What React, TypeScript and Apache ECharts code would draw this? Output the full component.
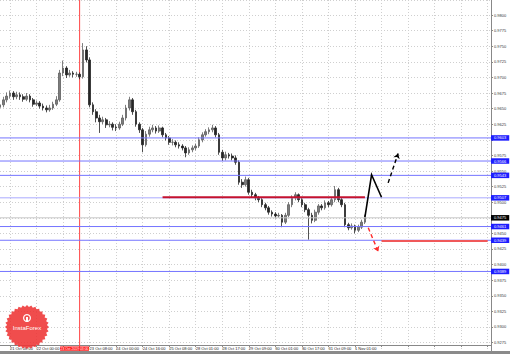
import React, { useEffect, useRef } from "react";
import * as echarts from "echarts";

// ---- data (H2 bars) ----
const tickLabels = [
  "21 Oct 08:00", "22 Oct 00:00", "22 Oct 16:00", "23 Oct 08:00", "24 Oct 00:00",
  "24 Oct 16:00", "25 Oct 08:00", "28 Oct 01:00", "28 Oct 17:00", "29 Oct 09:00",
  "30 Oct 01:00", "30 Oct 17:00", "31 Oct 09:00", "1 Nov 01:00",
];
const categoryCount = 149;
const firstTickIndex = 3;
const tickStep = 8;
const priceMin = 0.925673;
const priceMax = 0.982404;
const priceStep = 0.0025;

const opens = [
  0.9652, 0.9656, 0.9664, 0.9670, 0.9675, 0.9669, 0.9672, 0.9669, 0.9665, 0.9670,
  0.9664, 0.9657, 0.9659, 0.9654, 0.9651, 0.9648, 0.9651, 0.9657, 0.9664, 0.9707,
  0.9715, 0.9704, 0.9707, 0.9705, 0.9705, 0.9701, 0.9744, 0.9728, 0.9656, 0.9645,
  0.9635, 0.9629, 0.9632, 0.9624, 0.9625, 0.9620, 0.9619, 0.9625, 0.9635, 0.9651,
  0.9664, 0.9645, 0.9625, 0.9616, 0.9592, 0.9609, 0.9616, 0.9619, 0.9614, 0.9619,
  0.9608, 0.9603, 0.9596, 0.9596, 0.9592, 0.9590, 0.9587, 0.9579, 0.9584, 0.9587,
  0.9590, 0.9600, 0.9608, 0.9613, 0.9616, 0.9619, 0.9608, 0.9580, 0.9571, 0.9576,
  0.9574, 0.9571, 0.9564, 0.9532, 0.9528, 0.9536, 0.9516, 0.9512, 0.9507, 0.9504,
  0.9496, 0.9491, 0.9484, 0.9481, 0.9478, 0.9479, 0.9468, 0.9479, 0.9496, 0.9507,
  0.9512, 0.9504, 0.9496, 0.9488, 0.9479, 0.9471, 0.9484, 0.9494, 0.9491, 0.9499,
  0.9496, 0.9504, 0.9520, 0.9504, 0.9496, 0.9464, 0.9459, 0.9462, 0.9455, 0.9460,
  0.9468,
];
const closes = [
  0.9656, 0.9664, 0.9670, 0.9675, 0.9669, 0.9672, 0.9669, 0.9665, 0.9670, 0.9664,
  0.9657, 0.9659, 0.9654, 0.9651, 0.9648, 0.9651, 0.9657, 0.9664, 0.9707, 0.9715,
  0.9704, 0.9707, 0.9705, 0.9705, 0.9701, 0.9744, 0.9728, 0.9656, 0.9645, 0.9635,
  0.9629, 0.9632, 0.9624, 0.9625, 0.9620, 0.9619, 0.9625, 0.9635, 0.9651, 0.9664,
  0.9645, 0.9625, 0.9616, 0.9592, 0.9609, 0.9616, 0.9619, 0.9614, 0.9619, 0.9608,
  0.9603, 0.9596, 0.9596, 0.9592, 0.9590, 0.9587, 0.9579, 0.9584, 0.9587, 0.9590,
  0.9600, 0.9608, 0.9613, 0.9616, 0.9619, 0.9608, 0.9580, 0.9571, 0.9576, 0.9574,
  0.9571, 0.9564, 0.9532, 0.9528, 0.9536, 0.9516, 0.9512, 0.9507, 0.9504, 0.9496,
  0.9491, 0.9484, 0.9481, 0.9478, 0.9479, 0.9468, 0.9479, 0.9496, 0.9507, 0.9512,
  0.9504, 0.9496, 0.9488, 0.9479, 0.9471, 0.9484, 0.9494, 0.9491, 0.9499, 0.9496,
  0.9504, 0.9520, 0.9504, 0.9496, 0.9464, 0.9459, 0.9462, 0.9455, 0.9460, 0.9468,
  0.9476,
];
const highs = [
  0.9662, 0.9669, 0.9676, 0.9679, 0.9678, 0.9677, 0.9676, 0.9673, 0.9675, 0.9673,
  0.9667, 0.9663, 0.9662, 0.9658, 0.9655, 0.9656, 0.9661, 0.9670, 0.9712, 0.9727,
  0.9718, 0.9712, 0.9710, 0.9709, 0.9708, 0.9755, 0.9750, 0.9732, 0.9660, 0.9649,
  0.9640, 0.9637, 0.9635, 0.9630, 0.9628, 0.9625, 0.9629, 0.9640, 0.9656, 0.9669,
  0.9667, 0.9648, 0.9628, 0.9619, 0.9614, 0.9621, 0.9624, 0.9622, 0.9623, 0.9621,
  0.9611, 0.9606, 0.9601, 0.9599, 0.9596, 0.9593, 0.9590, 0.9588, 0.9591, 0.9594,
  0.9604, 0.9612, 0.9617, 0.9620, 0.9624, 0.9622, 0.9611, 0.9584, 0.9581, 0.9579,
  0.9578, 0.9575, 0.9567, 0.9537, 0.9541, 0.9539, 0.9520, 0.9515, 0.9510, 0.9507,
  0.9499, 0.9494, 0.9487, 0.9484, 0.9483, 0.9481, 0.9483, 0.9500, 0.9511, 0.9516,
  0.9514, 0.9507, 0.9499, 0.9491, 0.9483, 0.9488, 0.9497, 0.9497, 0.9503, 0.9502,
  0.9508, 0.9526, 0.9523, 0.9507, 0.9499, 0.9467, 0.9466, 0.9464, 0.9464, 0.9472,
  0.9480,
];
const lows = [
  0.9647, 0.9652, 0.9660, 0.9666, 0.9664, 0.9665, 0.9664, 0.9661, 0.9662, 0.9660,
  0.9653, 0.9654, 0.9650, 0.9647, 0.9644, 0.9645, 0.9648, 0.9654, 0.9661, 0.9702,
  0.9699, 0.9701, 0.9700, 0.9701, 0.9697, 0.9698, 0.9724, 0.9652, 0.9640, 0.9628,
  0.9611, 0.9625, 0.9619, 0.9620, 0.9615, 0.9614, 0.9616, 0.9622, 0.9631, 0.9647,
  0.9640, 0.9621, 0.9611, 0.9580, 0.9589, 0.9605, 0.9612, 0.9610, 0.9611, 0.9604,
  0.9599, 0.9592, 0.9591, 0.9588, 0.9586, 0.9583, 0.9572, 0.9576, 0.9580, 0.9583,
  0.9587, 0.9596, 0.9605, 0.9609, 0.9612, 0.9604, 0.9576, 0.9566, 0.9567, 0.9570,
  0.9567, 0.9560, 0.9528, 0.9523, 0.9525, 0.9512, 0.9508, 0.9503, 0.9500, 0.9492,
  0.9487, 0.9480, 0.9477, 0.9474, 0.9475, 0.9460, 0.9465, 0.9476, 0.9492, 0.9503,
  0.9500, 0.9492, 0.9484, 0.9440, 0.9466, 0.9468, 0.9480, 0.9487, 0.9488, 0.9492,
  0.9493, 0.9500, 0.9500, 0.9492, 0.9460, 0.9455, 0.9456, 0.9450, 0.9452, 0.9457,
  0.9465,
];

const blueLevels = [0.9603, 0.9566, 0.9543, 0.9507, 0.9461, 0.9439, 0.9389];
const currentPrice = 0.9475;
const separatorIndex = 24;
const separatorLabel = "23 Oct 2019 03:00";
const upperRed = [[49, 0.9508], [110, 0.9508]];
const lowerRed = [[115, 0.9438], [147, 0.9438]];
const bullPath = [[110, 0.9476], [112, 0.9544], [115, 0.9508]];
const bullTarget = [[117, 0.9531], [120, 0.9578]];
const bearPath = [[111, 0.9459], [114, 0.9421]];

const FONT = "'Liberation Sans', Arial, sans-serif";

export default function App() {
  const ref = useRef<HTMLDivElement>(null);

  useEffect(() => {
    if (!ref.current) return;
    const chart = echarts.init(ref.current, undefined, { renderer: "svg" });
    const categories = Array.from({ length: categoryCount }, (_, i) => String(i));
    const isTick = (i: number) => i >= firstTickIndex && (i - firstTickIndex) % tickStep === 0;
    // the label under the separator's date box is hidden, as in the terminal
    const isLabel = (i: number) =>
      isTick(i) &&
      (i - firstTickIndex) / tickStep < tickLabels.length &&
      !(i <= separatorIndex && i > separatorIndex - tickStep);
    const boxedLevels = [...blueLevels, currentPrice];

    const badgePts: number[][] = [];
    const cx = 27, cy = 327;
    for (let i = 0; i < 64; i++) {
      const a = (i / 64) * Math.PI * 2;
      const r = i % 2 === 0 ? 22 : 20;
      badgePts.push([cx + r * Math.cos(a), cy + r * Math.sin(a)]);
    }

    const levelSeries = (v: number, lineColor: string, boxColor: string) => ({
      type: "line",
      data: [[0, v], [categoryCount - 1, v]],
      symbol: "none",
      silent: true,
      itemStyle: { color: lineColor },
      lineStyle: { color: lineColor, width: 1, opacity: 1 },
      endLabel: {
        show: true,
        distance: 0,
        formatter: () => v.toFixed(4),
        backgroundColor: boxColor,
        color: "#fff",
        fontSize: 4,
        fontFamily: FONT,
        padding: [1, 3, 0.5, 3],
      },
      z: 3,
    });

    chart.setOption({
      animation: false,
      backgroundColor: "#fff",
      grid: { left: 0, right: 19, top: 0, bottom: 0, containLabel: false },
      xAxis: {
        type: "category",
        data: categories,
        boundaryGap: false,
        offset: -9,
        axisLine: { show: true, lineStyle: { color: "#888", width: 1 } },
        axisTick: { show: true, length: 2, interval: (i: number) => isTick(i), lineStyle: { color: "#888" } },
        axisLabel: {
          interval: (i: number) => isLabel(i),
          formatter: (_v: string, i: number) => tickLabels[(i - firstTickIndex) / tickStep] ?? "",
          fontSize: 4,
          color: "#222",
          fontFamily: FONT,
          align: "left",
          margin: 1.5,
        },
        splitLine: {
          show: true,
          interval: (i: number) => isTick(i),
          lineStyle: { color: "#cfcfcf", type: [1, 2], width: 1 },
        },
      },
      yAxis: {
        type: "value",
        position: "right",
        min: priceMin,
        max: priceMax,
        minInterval: priceStep,
        maxInterval: priceStep,
        splitNumber: 23,
        axisLine: { show: true, lineStyle: { color: "#888", width: 1 } },
        axisTick: { show: true, length: 2, lineStyle: { color: "#888" } },
        axisLabel: {
          fontSize: 4,
          color: "#333",
          fontFamily: FONT,
          margin: 3,
          showMinLabel: false,
          showMaxLabel: false,
          // grid labels hidden behind a level's price box
          formatter: (v: number) =>
            boxedLevels.some((l) => Math.abs(l - v) < 0.0004) ? "" : v.toFixed(4),
        },
        splitLine: { show: true, lineStyle: { color: "#cfcfcf", type: [1, 2], width: 1 } },
      },
      series: [
        {
          type: "candlestick",
          data: opens.map((o, i) => [o, closes[i], lows[i], highs[i]]),
          barWidth: 2.2,
          itemStyle: {
            color: "#7d7d7d",
            color0: "#262626",
            borderColor: "#5e5e5e",
            borderColor0: "#262626",
            borderWidth: 0.8,
          },
          z: 2,
        },
        ...blueLevels.map((v) => levelSeries(v, v === 0.9507 ? "#a9a9ff" : "#7474ff", "#1e1eff")),
        levelSeries(currentPrice, "#c8c8c8", "#000000"),
        {
          type: "line",
          data: [[separatorIndex, priceMin], [separatorIndex, priceMax]],
          symbol: "none",
          silent: true,
          itemStyle: { color: "#ff4545" },
          lineStyle: { color: "#ff4545", width: 1, opacity: 1 },
          z: 1,
        },
        {
          type: "line",
          data: upperRed,
          symbol: "none",
          itemStyle: { color: "#c4122f" },
          lineStyle: { color: "#c4122f", width: 2 },
          z: 4,
        },
        {
          type: "line",
          data: lowerRed,
          symbol: "none",
          itemStyle: { color: "#f0585a" },
          lineStyle: { color: "#f0585a", width: 2 },
          z: 4,
        },
        {
          type: "lines",
          coordinateSystem: "cartesian2d",
          polyline: true,
          symbol: "none",
          data: [{ coords: bullPath }],
          lineStyle: { color: "#000", width: 1.6, type: "solid", opacity: 1 },
          z: 5,
        },
        {
          type: "lines",
          coordinateSystem: "cartesian2d",
          symbol: ["none", "arrow"],
          symbolSize: 5,
          data: [{ coords: bullTarget }],
          lineStyle: { color: "#000", width: 1.4, type: [4, 3], opacity: 1 },
          z: 5,
        },
        {
          type: "lines",
          coordinateSystem: "cartesian2d",
          symbol: ["none", "arrow"],
          symbolSize: 5,
          data: [{ coords: bearPath }],
          lineStyle: { color: "#ff2a2a", width: 1.4, type: [4, 3], opacity: 1 },
          z: 5,
        },
      ],
    });

    // date box of the separator: ends just before the next visible time label
    const nextTick = firstTickIndex + Math.ceil((separatorIndex - firstTickIndex + 1) / tickStep) * tickStep;
    const boxRight = (chart.convertToPixel({ xAxisIndex: 0 }, String(nextTick)) as number) - 0.6;

    chart.setOption({
      graphic: [
        {
          type: "polygon",
          shape: { points: badgePts },
          style: { fill: "#ee3434", opacity: 0.88 },
          z: 10,
        },
        {
          type: "ring",
          shape: { cx, cy: cy - 9, r: 4, r0: 2.8 },
          style: { fill: "#fff" },
          z: 11,
        },
        {
          type: "rect",
          shape: { x: cx - 1, y: cy - 10, width: 2, height: 4 },
          style: { fill: "#fff" },
          z: 11,
        },
        {
          type: "text",
          x: cx,
          y: cy + 1,
          style: {
            text: "InstaForex",
            fill: "#fff",
            fontSize: 6,
            fontFamily: FONT,
            align: "center",
            verticalAlign: "middle",
          },
          z: 11,
        },
        {
          type: "text",
          x: boxRight,
          y: 348.6,
          style: {
            text: separatorLabel,
            fill: "#fff",
            backgroundColor: "#ff1a1a",
            padding: [0.8, 0.5, 0.5, 0.5],
            fontSize: 3.4,
            fontFamily: FONT,
            align: "right",
            verticalAlign: "middle",
          },
          z: 12,
        },
        {
          type: "rect",
          shape: { x: 0, y: 351, width: 510, height: 3 },
          style: { fill: "#8a8a8a" },
          z: 12,
        },
      ],
    });

    return () => chart.dispose();
  }, []);

  return <div ref={ref} style={{ width: 510, height: 354, position: "absolute", left: 0, top: 0 }} />;
}
